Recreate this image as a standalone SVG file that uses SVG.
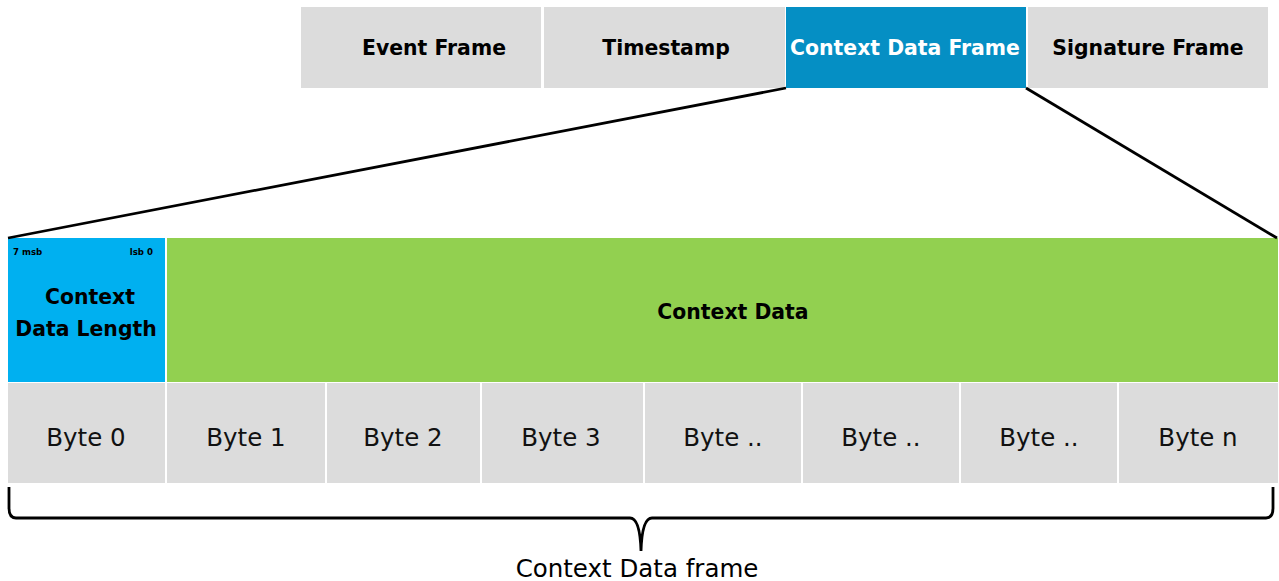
<svg xmlns="http://www.w3.org/2000/svg" width="1279" height="581" viewBox="0 0 1279 581">
<style>
.g{fill:#DCDCDC}
.hb{font-family:"DejaVu Sans",Verdana,sans-serif;font-weight:bold;font-size:20.4px;fill:#000;text-anchor:middle}
.by{font-family:"DejaVu Sans",Verdana,sans-serif;font-size:24.5px;fill:#111;text-anchor:middle}
.sm{font-family:"DejaVu Sans",Verdana,sans-serif;font-weight:bold;font-size:8.6px;fill:#000}
.ln{stroke:#000;stroke-width:2.8;fill:none}
</style>
<rect width="1279" height="581" fill="#fff"/>
<g id="event-frame"><rect class="g" x="301" y="7" width="240" height="81"/><text class="hb" x="434" y="55">Event Frame</text></g>
<g id="timestamp"><rect class="g" x="544" y="7" width="241" height="81"/><text class="hb" x="666" y="55">Timestamp</text></g>
<g id="context-data-frame"><rect x="786" y="7" width="240" height="81" fill="#058FC4"/><text class="hb" x="905" y="55" style="fill:#fff">Context Data Frame</text></g>
<g id="signature-frame"><rect class="g" x="1028" y="7" width="240" height="81"/><text class="hb" x="1148" y="55">Signature Frame</text></g>
<g id="context-data-length"><rect x="8" y="238" width="157" height="144" fill="#00B0F0"/>
<text class="sm" x="13" y="255">7 msb</text><text class="sm" x="153" y="255" text-anchor="end">lsb 0</text>
<text class="hb" x="90" y="304">Context</text><text class="hb" x="86" y="336">Data Length</text></g>
<g id="context-data"><rect x="167" y="238" width="1111" height="144" fill="#92D050"/><text class="hb" x="733" y="319">Context Data</text></g>
<g id="bytes">
<rect class="g" x="8" y="383" width="157" height="100"/><text class="by" x="86" y="446">Byte 0</text>
<rect class="g" x="167" y="383" width="158" height="100"/><text class="by" x="246" y="446">Byte 1</text>
<rect class="g" x="327" y="383" width="153" height="100"/><text class="by" x="403" y="446">Byte 2</text>
<rect class="g" x="482" y="383" width="161" height="100"/><text class="by" x="561" y="446">Byte 3</text>
<rect class="g" x="645" y="383" width="156" height="100"/><text class="by" x="723" y="446">Byte ..</text>
<rect class="g" x="803" y="383" width="156" height="100"/><text class="by" x="881" y="446">Byte ..</text>
<rect class="g" x="961" y="383" width="156" height="100"/><text class="by" x="1039" y="446">Byte ..</text>
<rect class="g" x="1119" y="383" width="159" height="100"/><text class="by" x="1198" y="446">Byte n</text>
</g>
<g id="connectors">
<line class="ln" x1="786" y1="88" x2="8" y2="238"/>
<line class="ln" x1="1026" y1="88" x2="1277" y2="238"/>
<path class="ln" d="M9 487 L9 508 Q9 518 16 518 L630 518 Q640 518 641 551 Q642 518 652 518 L1266 518 Q1273 518 1273 508 L1273 487"/>
</g>
<text class="by" x="637" y="577" style="fill:#000">Context Data frame</text>
</svg>
